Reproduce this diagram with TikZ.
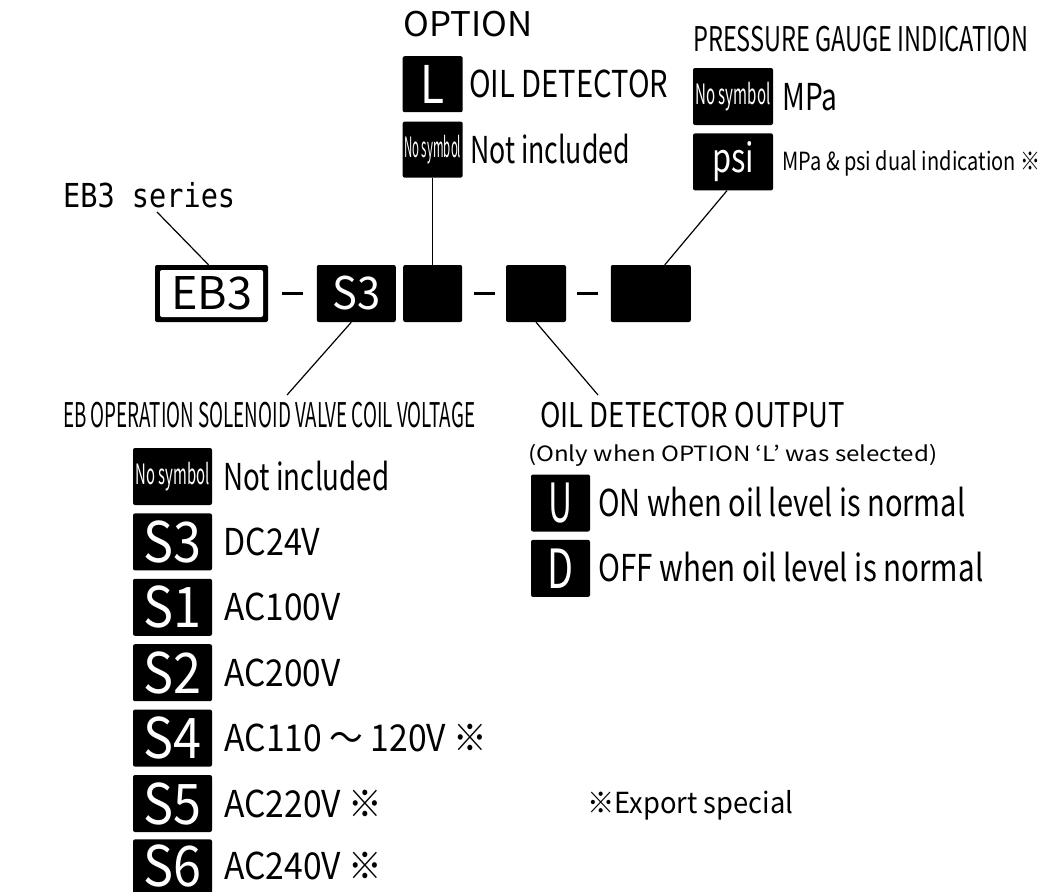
\documentclass[tikz,border=0pt]{standalone}
\usepackage{fontspec}
\usepackage{graphicx}
\setmainfont{Noto Sans CJK JP}
\newfontfamily\seriesfont{DejaVu Sans Mono}
\usetikzlibrary{positioning}

% squeeze a text to a given width, keeping its height
\newcommand{\squeeze}[2]{\resizebox{#1}{\height}{#2}}

\tikzset{
  code/.style={fill=black, text=white, rounded corners=2pt, inner sep=0pt,
    minimum width=79pt, minimum height=57pt},
  hyph/.style={fill=black, inner sep=0pt, minimum width=21pt, minimum height=2.6pt},
  item/.style={anchor=west, inner sep=0pt, text height=27pt, text depth=0pt,
    font=\fontsize{37}{37}\selectfont},
  head/.style={anchor=base west, inner sep=0pt, font=\fontsize{34}{34}\selectfont},
  lead/.style={line width=1.2pt},
}

\begin{document}
\begin{tikzpicture}[x=1pt, y=-1pt]
\useasboundingbox (0,0) rectangle (1048,891);

% model code row
\node[code, minimum width=113pt] (eb) at (211.5,293.5) {};
\node[fill=white, rounded corners=2pt, inner sep=0pt, minimum width=103pt, minimum height=47pt]
  (ebin) at (eb) {\fontsize{45}{45}\selectfont\color{black}\squeeze{81pt}{EB3}};
\node[hyph, right=14pt of eb] (d1) {};
\node[code, right=13pt of d1] (s3) {\fontsize{45}{45}\selectfont\squeeze{48pt}{S3}};
\node[code, minimum width=59pt, right=7pt of s3] (opt) {};
\node[hyph, right=11pt of opt] (d2) {};
\node[code, minimum width=60pt, right=11pt of d2] (out) {};
\node[hyph, right=11pt of out] (d3) {};
\node[code, minimum width=80pt, right=12pt of d3] (gauge) {};

% series
\node[head, font=\seriesfont\fontsize{33}{33}\selectfont] (series) at (63,207) {\squeeze{172pt}{EB3 series}};
\coordinate (seriesTip) at (157,212);
\draw[lead] (seriesTip) -- ([xshift=-3pt]eb.north);

% option
\node[code, minimum width=60pt, minimum height=56pt, above=87pt of opt] (optNo)
  {\fontsize{28}{28}\selectfont\squeeze{57pt}{No symbol}};
\node[code, minimum width=60pt, minimum height=56pt, above=9pt of optNo] (optL)
  {\fontsize{52}{52}\selectfont\squeeze{24pt}{L}};
\node[head] (optHead) at (403,37) {\squeeze{129pt}{OPTION}};
\node[item, right=6pt of optL] {\squeeze{199pt}{OIL DETECTOR}};
\node[item, right=7pt of optNo] {\squeeze{160pt}{Not included}};
\draw[lead] (opt.north) -- (optNo.south);

% pressure gauge indication
\node[head] (gaugeHead) at (693,52) {\squeeze{335pt}{PRESSURE GAUGE INDICATION}};
\node[code, minimum width=80pt] (gaugeNo) at (733,96.5)
  {\fontsize{28}{28}\selectfont\squeeze{75pt}{No symbol}};
\node[code, minimum width=80pt, below=8pt of gaugeNo] (gaugePsi)
  {\fontsize{40}{40}\selectfont\squeeze{42pt}{psi}};
\node[item, right=9pt of gaugeNo] {\squeeze{55pt}{MPa}};
\node[item, right=9pt of gaugePsi, text height=18pt, font=\fontsize{25}{25}\selectfont]
  {\squeeze{258pt}{MPa \& psi dual indication ※}};
\draw[lead] ([xshift=14pt]gauge.north) -- ([xshift=-6pt]gaugePsi.south);

% coil voltage
\node[head] (voltHead) at (63,427) {\squeeze{412pt}{EB OPERATION SOLENOID VALVE COIL VOLTAGE}};
\coordinate (voltTip) at (287,395);
\draw[lead] ([xshift=-5pt]s3.south) -- (voltTip);
\node[code] (vNo) at (172.5,476.5) {\fontsize{28}{28}\selectfont\squeeze{74pt}{No symbol}};
\node[code, below=8pt of vNo] (vS3) {\fontsize{56}{56}\selectfont\squeeze{58pt}{S3}};
\node[code, below=8pt of vS3] (vS1) {\fontsize{56}{56}\selectfont\squeeze{58pt}{S1}};
\node[code, below=8pt of vS1] (vS2) {\fontsize{56}{56}\selectfont\squeeze{58pt}{S2}};
\node[code, below=8pt of vS2] (vS4) {\fontsize{56}{56}\selectfont\squeeze{58pt}{S4}};
\node[code, below=8pt of vS4] (vS5) {\fontsize{56}{56}\selectfont\squeeze{58pt}{S5}};
\node[code, minimum height=54pt, below=7pt of vS5] (vS6) {\fontsize{56}{56}\selectfont\squeeze{58pt}{S6}};
\node[item, right=11pt of vNo] {\squeeze{166pt}{Not included}};
\node[item, right=11pt of vS3] {\squeeze{97pt}{DC24V}};
\node[item, right=12pt of vS1] {\squeeze{116pt}{AC100V}};
\node[item, right=12pt of vS2] {\squeeze{116pt}{AC200V}};
\node[item, right=12pt of vS4] {\squeeze{263pt}{AC110 ～ 120V ※}};
\node[item, right=12pt of vS5] {\squeeze{158pt}{AC220V ※}};
\node[item, right=12pt of vS6] {\squeeze{158pt}{AC240V ※}};

% oil detector output
\node[head] (outHead) at (540,427) {\squeeze{305pt}{OIL DETECTOR OUTPUT}};
\node[head, font=\fontsize{21}{21}\selectfont] (outNote) at (528,461)
  {\squeeze{409pt}{(Only when OPTION ‘L’ was selected)}};
\coordinate (outTip) at (598,395);
\draw[lead] (out.south) -- (outTip);
\node[code, minimum width=59pt] (outU) at (560.5,503) {\fontsize{54}{54}\selectfont\squeeze{24pt}{U}};
\node[code, minimum width=59pt, below=8pt of outU] (outD) {\fontsize{54}{54}\selectfont\squeeze{26pt}{D}};
\node[item, right=8pt of outU] {\squeeze{367pt}{ON when oil level is normal}};
\node[item, right=8pt of outD] {\squeeze{385pt}{OFF when oil level is normal}};

% note
\node[head, font=\fontsize{29}{29}\selectfont] (note) at (587,813) {\squeeze{206pt}{※Export special}};
\end{tikzpicture}
\end{document}
